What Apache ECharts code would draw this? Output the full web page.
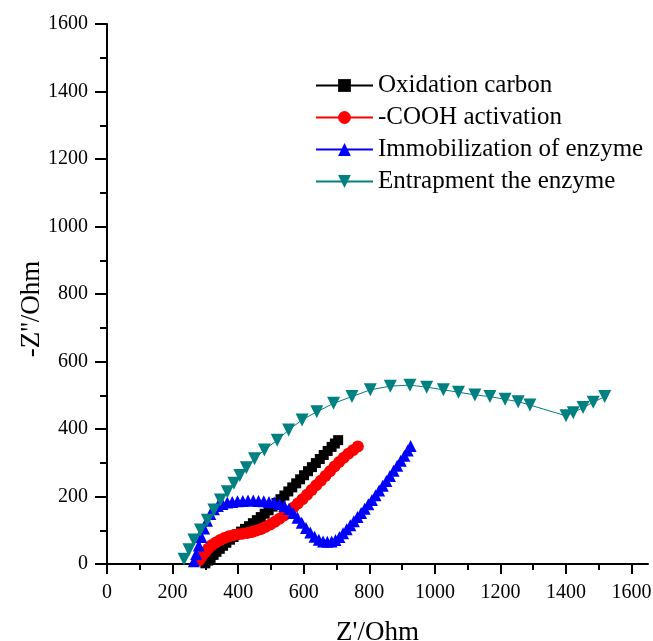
<!DOCTYPE html>
<html>
<head>
<meta charset="utf-8">
<script src="https://cdn.jsdelivr.net/npm/echarts@6/dist/echarts.min.js"></script>
<style>
  html, body { margin: 0; padding: 0; background: #fff; }
  #chart { width: 653px; height: 641px; }
</style>
</head>
<body>
<div id="chart"></div>
<script>
'use strict';
// series names
var seriesNames = ['Oxidation carbon', '-COOH activation', 'Immobilization of enzyme', 'Entrapment the enzyme'];

// Z' (x) and -Z'' (y) per series
var oxidationX = [300, 308, 316, 325, 334, 344, 354, 364, 375, 386, 397, 409, 421, 433, 445, 457, 469, 481, 493, 505, 517, 529, 541, 553, 565, 577, 589, 601, 613, 625, 637, 649, 661, 673, 685, 695, 705];
var oxidationY = [2, 10, 18, 27, 36, 45, 54, 63, 72, 80, 88, 96, 104, 112, 121, 130, 139, 149, 159, 170, 181, 192, 203, 215, 227, 239, 251, 263, 275, 287, 299, 311, 323, 335, 347, 357, 367];

var coohX = [282, 290, 299, 309, 320, 332, 345, 358, 372, 386, 400, 414, 428, 442, 456, 470, 484, 498, 512, 526, 540, 554, 568, 582, 596, 610, 624, 638, 652, 666, 680, 694, 708, 722, 736, 750, 765];
var coohY = [12, 24, 35, 46, 56, 64, 71, 77, 82, 85, 88, 90, 92, 95, 99, 104, 110, 117, 125, 134, 144, 155, 167, 179, 192, 205, 219, 233, 247, 261, 275, 289, 302, 315, 327, 337, 348];

var immobX = [265, 272, 280, 288, 296, 305, 315, 326, 338, 352, 367, 382, 398, 414, 430, 446, 462, 478, 494, 510, 526, 541, 555, 568, 581, 594, 607, 620, 633, 646, 659, 672, 685, 697, 709, 720, 731, 742, 753, 764, 775, 786, 797, 808, 819, 830, 841, 852, 863, 874, 885, 896, 907, 917, 926];
var immobY = [8, 30, 55, 80, 105, 128, 148, 162, 172, 178, 182, 184, 186, 187, 188, 188, 187, 186, 184, 182, 178, 172, 163, 151, 137, 122, 107, 93, 81, 72, 67, 66, 67, 71, 80, 91, 103, 115, 127, 139, 151, 164, 177, 190, 204, 218, 232, 246, 261, 276, 291, 306, 321, 336, 350];

var entrapX = [235, 250, 265, 285, 306, 326, 346, 367, 387, 405, 425, 450, 480, 519, 554, 595, 640, 691, 747, 803, 864, 924, 975, 1026, 1072, 1122, 1168, 1214, 1254, 1290, 1400, 1422, 1452, 1483, 1518];
var entrapY = [14, 42, 71, 101, 130, 160, 190, 214, 239, 262, 285, 312, 338, 367, 397, 427, 451, 476, 496, 516, 527, 530, 524, 516, 509, 501, 496, 488, 481, 471, 439, 448, 464, 479, 496];

// axis ticks
var xMajorTicks = [0, 200, 400, 600, 800, 1000, 1200, 1400, 1600];
var xMinorTicks = [100, 300, 500, 700, 900, 1100, 1300, 1500];

function pairs(xs, ys) {
    return xs.map(function (x, i) { return [x, ys[i]]; });
}

function plain(v) {
    return String(v);
}

var font = 'Liberation Serif';
var chart = echarts.init(document.getElementById('chart'));

var option = {
    animation: false,
    backgroundColor: '#ffffff',
    grid: { left: 107, right: 5, top: 24, bottom: 77, outerBoundsMode: 'none', containLabel: false },
    legend: {
        orient: 'vertical',
        left: 310,
        top: 68,
        itemWidth: 57,
        itemHeight: 16,
        itemGap: 7,
        textStyle: { fontFamily: font, fontSize: 25, color: '#000' },
        data: seriesNames
    },
    xAxis: [
        {
            type: 'value',
            min: 0,
            max: 1650,
            interval: 200,
            name: "Z'/Ohm",
            nameLocation: 'middle',
            nameGap: 55,
            nameTextStyle: { fontFamily: font, fontSize: 27, color: '#000' },
            splitLine: { show: false },
            axisLine: { onZero: false, lineStyle: { color: '#000', width: 2 } },
            axisTick: { customValues: xMajorTicks, length: 10, lineStyle: { color: '#000', width: 2 } },
            axisLabel: { customValues: xMajorTicks, formatter: plain, margin: 19, fontFamily: font, fontSize: 20, color: '#000' }
        },
        {
            type: 'value',
            min: 0,
            max: 1650,
            position: 'bottom',
            splitLine: { show: false },
            axisLine: { show: false },
            axisTick: { customValues: xMinorTicks, length: 6, lineStyle: { color: '#000', width: 2 } },
            axisLabel: { show: false }
        }
    ],
    yAxis: {
        type: 'value',
        min: 0,
        max: 1600,
        interval: 200,
        name: "-Z''/Ohm",
        nameLocation: 'middle',
        nameGap: 62,
        nameRotate: 90,
        nameMoveOverlap: false,
        nameTextStyle: { fontFamily: font, fontSize: 27, color: '#000', padding: [0, 30, 0, 0] },
        splitLine: { show: false },
        axisLine: { show: true, onZero: false, lineStyle: { color: '#000', width: 2 } },
        axisTick: { length: 12, lineStyle: { color: '#000', width: 2 } },
        minorTick: { show: true, splitNumber: 2, length: 7, lineStyle: { color: '#000', width: 2 } },
        axisLabel: { formatter: plain, margin: 19, fontFamily: font, fontSize: 20, color: '#000' }
    },
    series: [
        {
            name: seriesNames[0],
            type: 'line',
            data: pairs(oxidationX, oxidationY),
            symbol: 'rect',
            symbolSize: 10,
            showAllSymbol: true,
            color: '#000000',
            lineStyle: { width: 1, color: '#000000' }
        },
        {
            name: seriesNames[1],
            type: 'line',
            data: pairs(coohX, coohY),
            symbol: 'circle',
            symbolSize: 12,
            showAllSymbol: true,
            color: '#ff0000',
            lineStyle: { width: 1, color: '#ff0000' }
        },
        {
            name: seriesNames[2],
            type: 'line',
            data: pairs(immobX, immobY),
            symbol: 'triangle',
            symbolSize: 12,
            showAllSymbol: true,
            color: '#0000ff',
            lineStyle: { width: 1, color: '#0000ff' }
        },
        {
            name: seriesNames[3],
            type: 'line',
            data: pairs(entrapX, entrapY),
            symbol: 'triangle',
            symbolRotate: 180,
            symbolSize: 13,
            showAllSymbol: true,
            color: '#008080',
            lineStyle: { width: 1, color: '#008080' }
        }
    ]
};

chart.setOption(option);
</script>
</body>
</html>
